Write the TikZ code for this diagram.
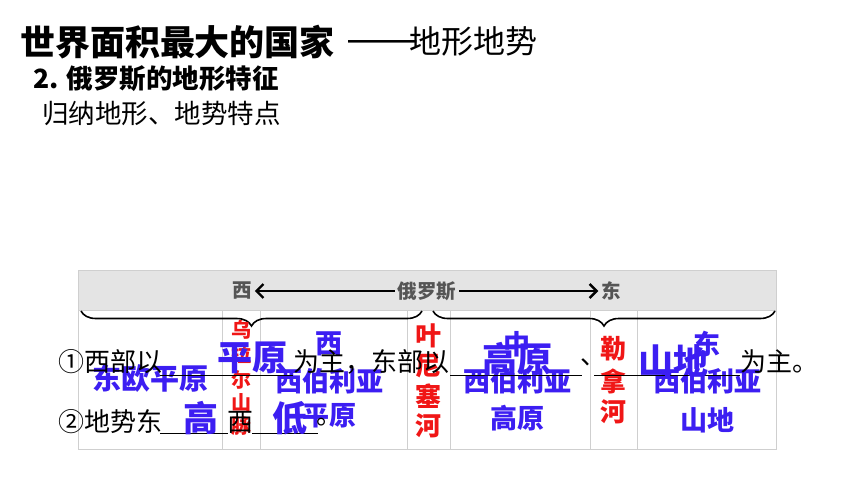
\documentclass[tikz,border=0pt]{standalone}
\usepackage{fontspec}
\setmainfont{Noto Sans CJK SC}
\usetikzlibrary{arrows.meta,decorations.pathreplacing}
\definecolor{ansblue}{HTML}{3C1EF2}
\definecolor{colblue}{HTML}{3C1EF2}
\definecolor{rivred}{HTML}{F01616}
\definecolor{hdrgray}{HTML}{E4E4E4}
\definecolor{hdrline}{HTML}{CFCFCF}
\definecolor{hdrtext}{HTML}{555555}
\newcommand{\fs}[1]{\fontsize{#1}{#1}\selectfont}
\tikzset{
  txt/.style={inner sep=0pt, outer sep=0pt},
  hdr/.style={txt, font=\fs{19.5}\bfseries, text=hdrtext},
  coltext/.style={txt, font=\fs{27}\bfseries, text=colblue, align=center},
  vert/.style={txt, text=rivred, align=center},
  plain/.style={txt, anchor=west, font=\fs{26}, text=black},
  answer/.style={txt, font=\fs{35}\bfseries, text=ansblue},
  hdrarrow/.style={line width=2.4pt, -{Straight Barb[length=7pt,width=14pt,line width=2.4pt]}},
  bracestyle/.style={line width=1.6pt, decorate, decoration={brace, mirror, amplitude=15pt}},
  uline/.style={line width=0.9pt, black},
}
\begin{document}
\begin{tikzpicture}[x=1pt,y=-1pt]
\useasboundingbox (0,0) rectangle (860,484);
\fill[white] (0,0) rectangle (860,484);
% title
\node[txt, anchor=west, font=\fs{35}\bfseries] (title) at (20,42) {世界面积最大的国家};
\node[txt, anchor=west, font=\fs{32}] (dash) at (346,47) {\scalebox{1.35}[1.3]{——}};
\node[txt, anchor=west, font=\fs{32}] (title2) at (409,41) {地形地势};
\node[txt, anchor=west, font=\fs{26.5}\bfseries] (sub) at (33,79) {2. 俄罗斯的地形特征};
\node[txt, anchor=west, font=\fs{26.5}] (sub2) at (42,113) {归纳地形、地势特点};
% table
\draw[hdrline, fill=hdrgray] (78,270) rectangle (776,310);
\draw[hdrline, fill=white] (78,310) rectangle (776,449);
\foreach \x in {222,260,407,450,590,637}
  \draw[hdrline] (\x,310) -- (\x,449);
% header
\node[hdr] (west) at (242,291) {西};
\node[hdr] (rus) at (427,291) {俄罗斯};
\node[hdr] (east) at (611,291) {东};
\draw[hdrarrow] ([xshift=-3pt]rus.west) -- ([xshift=3pt]west.east);
\draw[hdrarrow] ([xshift=3pt]rus.east) -- ([xshift=-3pt]east.west);
% braces
\coordinate (b1a) at (81,311);
\coordinate (b1b) at (422,311);
\coordinate (b2a) at (433,311);
\coordinate (b2b) at (775,311);
\draw[bracestyle] (b1a) -- (b1b);
\draw[bracestyle] (b2a) -- (b2b);
% column texts
\node[coltext, font=\fs{29}\bfseries] (c1) at (150,378) {东欧平原};
\node[coltext] (c3a) at (329,344) {西};
\node[coltext] (c3b) at (329,381) {西伯利亚};
\node[coltext] (c3c) at (329,416) {平原};
\node[coltext] (c5a) at (517,344) {中};
\node[coltext] (c5b) at (517,381) {西伯利亚};
\node[coltext] (c5c) at (517,418) {高原};
\node[coltext] (c7a) at (707,344) {东};
\node[coltext] (c7b) at (707,381) {西伯利亚};
\node[coltext] (c7c) at (707,420) {山地};
% vertical red names
\foreach \ch/\y [count=\i] in {乌/330,拉/355,尔/380,山/403,脉/426}
  \node[vert, font=\fs{20}\bfseries] (ural\i) at (241,\y) {\ch};
\foreach \ch/\y [count=\i] in {叶/336,尼/366,塞/396,河/426}
  \node[vert, font=\fs{26}\bfseries] (yen\i) at (428,\y) {\ch};
\foreach \ch/\y [count=\i] in {勒/349,拿/381,河/412}
  \node[vert, font=\fs{26}\bfseries] (lena\i) at (613,\y) {\ch};
% question lines
\node[plain] (q1a) at (58,362) {①西部以};
\node[plain] (q1b) at (293,362) {为主，东部以};
\node[plain] (q1c) at (580,362) {、};
\node[plain] (q1d) at (740,362) {为主。};
\draw[uline] (160,375) -- (293,375);
\draw[uline] (450,375) -- (582,375);
\draw[uline] (594,375) -- (740,375);
\node[plain] (q2a) at (58,422) {②地势东};
\node[plain] (q2b) at (227,422) {西};
\node[plain] (q2c) at (316,422) {。};
\draw[uline] (160,433) -- (228,433);
\draw[uline] (252,433) -- (318,433);
% answers
\node[answer] (ans1) at (252,358) {平原};
\node[answer] (ans2) at (517,359) {高原};
\node[answer] (ans3) at (673,361) {山地};
\node[answer] (ans4) at (201,418) {高};
\node[answer] (ans5) at (290,418) {低};
\end{tikzpicture}
\end{document}
